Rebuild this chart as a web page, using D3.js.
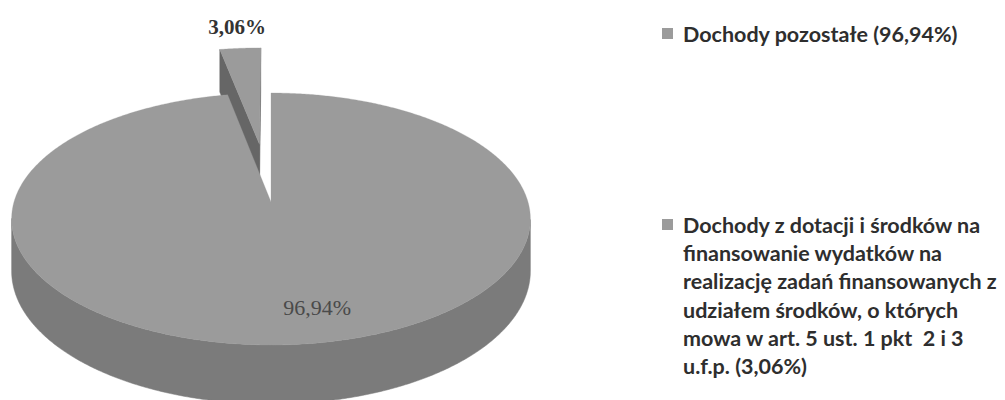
<!DOCTYPE html>
<html><head><meta charset="utf-8">
<script src="https://cdn.jsdelivr.net/npm/d3@7"></script>
<style>html,body{margin:0;padding:0;background:#fff;} svg{display:block} text{white-space:pre}</style>
</head><body>
<svg id="c" width="1005" height="400"></svg>
<script>
// ---- data ----
const categories = ["Dochody pozostałe", "Dochody z dotacji i środków na finansowanie wydatków na realizację zadań finansowanych z udziałem środków, o których mowa w art. 5 ust. 1 pkt  2 i 3 u.f.p."];
const values = [96.94, 3.06];
const exploded = [false, true];
const legendLines = [
  ["Dochody pozostałe (96,94%)"],
  ["Dochody z dotacji i środków na", "finansowanie wydatków na", "realizację zadań finansowanych z", "udziałem środków, o których", "mowa w art. 5 ust. 1 pkt  2 i 3", "u.f.p. (3,06%)"]
];

// ---- styles / geometry ----
const topColor = "#9b9b9b", rimColor = "#7b7b7b", wallColor = "#666666";
const cx = 271, cy = 202, A = 257, B = 123.7, D = 51, P = -0.135, EXPL = 0.5;

const svg = d3.select("#c");
const fmt = v => d3.format(".2f")(v).replace(".", ",") + "%";

function proj(u, v, d) { const w = 1 + P * v; return [cx + A * u / w, cy + (B * v + D * d) / w]; }

const pie = d3.pie().sort(null).value(d => d.value);
const arcs = pie(values.map((v, i) => ({ value: v, i })));

function shoelace(pts) { let s = 0; for (let k = 0; k < pts.length; k++) { const a = pts[k], b = pts[(k + 1) % pts.length]; s += a[0] * b[1] - b[0] * a[1]; } return s; }

const slices = arcs.map(a => {
  const mid = (a.startAngle + a.endAngle) / 2;
  const ou = exploded[a.data.i] ? EXPL * Math.sin(mid) : 0;
  const ov = exploded[a.data.i] ? -EXPL * Math.cos(mid) : 0;
  const pt = (r, t, d) => proj(ou + r * Math.sin(t), ov - r * Math.cos(t), d);
  const n = Math.max(2, Math.ceil((a.endAngle - a.startAngle) / (Math.PI / 360)));
  const angles = d3.range(n + 1).map(k => a.startAngle + (a.endAngle - a.startAngle) * k / n);
  const polys = [];
  // radial walls
  [[pt(0, 0, 0), pt(1, a.startAngle, 0), pt(1, a.startAngle, 1), pt(0, 0, 1)],
   [pt(1, a.endAngle, 0), pt(0, 0, 0), pt(0, 0, 1), pt(1, a.endAngle, 1)]].forEach(q => {
    if (shoelace(q) < -0.01) polys.push({ pts: q, fill: wallColor });
  });
  // rim: contiguous visible runs merged into single polygons
  let run = null;
  const flush = () => { if (run && run.length > 1) {
      const topPts = run.map(t => pt(1, t, 0)), botPts = run.map(t => pt(1, t, 1)).reverse();
      polys.push({ pts: topPts.concat(botPts), fill: rimColor }); }
    run = null; };
  for (let k = 0; k < n; k++) {
    const t1 = angles[k], t2 = angles[k + 1];
    const q = [pt(1, t1, 0), pt(1, t2, 0), pt(1, t2, 1), pt(1, t1, 1)];
    if (shoelace(q) < 0) { if (!run) run = [t1]; run.push(t2); } else flush();
  }
  flush();
  const top = [pt(0, 0, 0)].concat(angles.map(t => pt(1, t, 0)));
  return { a, mid, pt, polys, top, depth: ov };
});

slices.sort((p, q) => p.depth - q.depth);
const line = d3.line();
slices.forEach(s => {
  const g = svg.append("g");
  g.selectAll("path.w").data(s.polys).join("path")
    .attr("d", w => line(w.pts) + "Z").attr("fill", w => w.fill).attr("stroke", w => w.fill).attr("stroke-width", 0.5).attr("stroke-linejoin", "round");
  g.append("path").attr("d", line(s.top) + "Z").attr("fill", topColor).attr("stroke", topColor).attr("stroke-width", 0.3);
});

// data labels
slices.forEach(s => {
  const i = s.a.data.i;
  if (exploded[i]) {
    const p = s.pt(1, s.mid, 0);
    svg.append("text").attr("x", p[0] - 3).attr("y", p[1] - 14)
      .attr("text-anchor", "middle").attr("font-family", "Liberation Serif, serif").attr("font-weight", "bold")
      .attr("font-size", 21).attr("fill", "#333").text(fmt(values[i]));
  } else {
    const p = s.pt(0.77, s.mid, 0);
    svg.append("text").attr("x", p[0] + 25).attr("y", p[1] + 7)
      .attr("text-anchor", "middle").attr("font-family", "Liberation Serif, serif")
      .attr("font-size", 22).attr("fill", "#4a4a4a").text(fmt(values[i]));
  }
});

// legend
const legendTop = [42, 233];
const lineH = 28.2;
const lg = svg.append("g").attr("font-family", "Lato, sans-serif").attr("font-weight", "bold").attr("font-size", 21.5).attr("fill", "#2e2e2e");
legendLines.forEach((lines, i) => {
  lg.append("rect").attr("x", 662).attr("y", legendTop[i] - 14).attr("width", 11).attr("height", 11).attr("fill", topColor);
  lines.forEach((t, j) => {
    lg.append("text").attr("x", 683).attr("y", legendTop[i] + j * lineH).text(t);
  });
});
</script>
</body></html>
